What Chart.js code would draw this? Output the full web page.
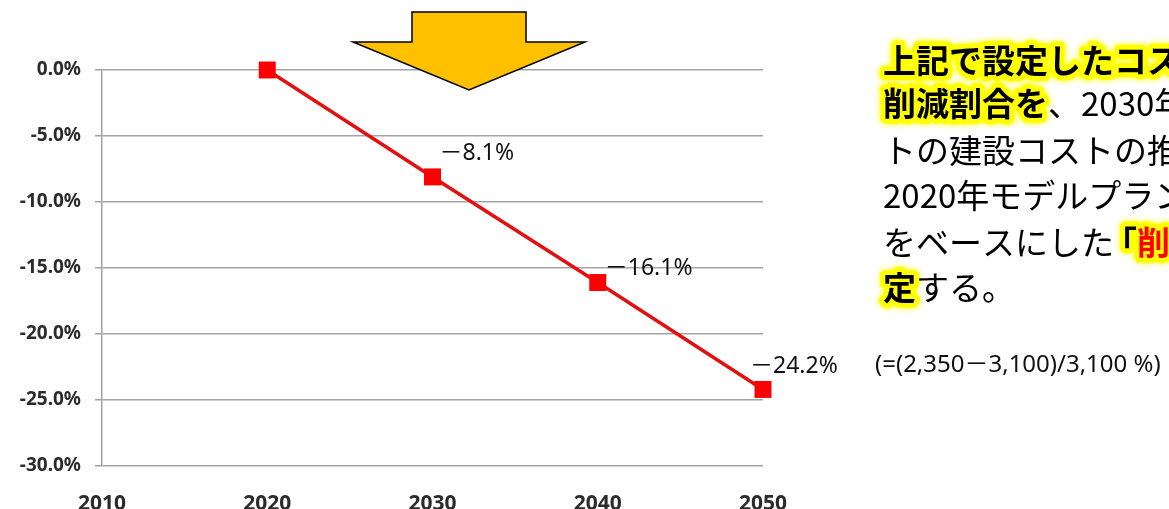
<!DOCTYPE html>
<html lang="ja">
<head>
<meta charset="UTF-8">
<title>建設コスト削減割合</title>
<style>
  html, body { margin: 0; padding: 0; background: #fff; }
  canvas { display: block; }
</style>
</head>
<body>
<canvas id="costChart" width="1169" height="509"></canvas>
<script src="https://cdn.jsdelivr.net/npm/chart.js"></script>
<script>
// 年ごとのコスト削減割合 (%)
const years = [2020, 2030, 2040, 2050];
const reductionPct = [0, -8.1, -16.1, -24.2];

// 軸の範囲と目盛
const xTicks = [2010, 2020, 2030, 2040, 2050];
const yTicks = [0, -5, -10, -15, -20, -25, -30];

// 右側の説明文 (行ごとの文字列と装飾)
const noteLines = [
    [{ t: '上記で設定したコスト', bold: true, hl: true }],
    [{ t: '削減割合を', bold: true, hl: true }, { t: '、2030年モデルプラン' }],
    [{ t: 'トの建設コストの推計値を' }],
    [{ t: '2020年モデルプラント' }],
    [{ t: 'をベースにした' }, { t: '「', bold: true, hl: true, tight: 10 }, { t: '削減割合」', bold: true, hl: true, color: '#ff0000' }],
    [{ t: '定', bold: true, hl: true }, { t: 'する。' }]
];
const formulaText = '(=(2,350－3,100)/3,100 %)';

// ラベルの位置ずらし (点からの px)
const labelOffsets = [[0, 0], [7, -23], [7, -14], [-13, -23]];

const ctx = document.getElementById('costChart');

function pctLabel(v) {
    return '－' + Math.abs(v).toFixed(1) + '%';
}

// 点の横に値ラベルを描く
const valueLabels = {
    id: 'valueLabels',
    afterDatasetsDraw(chart) {
        const c = chart.ctx;
        const meta = chart.getDatasetMeta(0);
        c.save();
        c.font = '23px "Noto Sans", "Noto Sans CJK JP", sans-serif';
        c.fillStyle = '#111';
        c.textAlign = 'left';
        c.textBaseline = 'middle';
        meta.data.forEach((pt, i) => {
            const v = reductionPct[i];
            if (v === 0) return;
            const off = labelOffsets[i];
            c.fillText(pctLabel(v), pt.x + off[0], pt.y + off[1]);
        });
        c.restore();
    }
};

// 矢印と右側の説明文
const decorations = {
    id: 'decorations',
    afterDraw(chart) {
        const c = chart.ctx;
        c.save();

        // 下向きの矢印
        c.beginPath();
        c.moveTo(412, 12);
        c.lineTo(526, 12);
        c.lineTo(526, 42);
        c.lineTo(585, 42);
        c.lineTo(469, 90);
        c.lineTo(353, 42);
        c.lineTo(412, 42);
        c.closePath();
        c.fillStyle = '#ffc000';
        c.fill();
        c.lineWidth = 1.5;
        c.strokeStyle = '#000';
        c.stroke();

        // 説明文
        const lineY = [60, 103, 150, 195, 242, 287];
        const x0 = 883;
        c.textAlign = 'left';
        c.textBaseline = 'middle';
        const fontOf = s => (s.bold ? 'bold ' : '') + '33px "Noto Sans CJK JP", sans-serif';

        // 各区切りの描画位置 (括弧は左へ詰める)
        const layoutLine = line => {
            let x = x0;
            return line.map(s => {
                c.font = fontOf(s);
                const tight = s.tight || 0;
                const pos = x - tight;
                x += c.measureText(s.t).width - tight;
                return pos;
            });
        };

        // 蛍光ペン風の下地を先に描く
        noteLines.forEach((line, li) => {
            const xs = layoutLine(line);
            line.forEach((s, si) => {
                if (!s.hl) return;
                c.save();
                c.font = fontOf(s);
                c.lineJoin = 'round';
                c.lineWidth = 10;
                c.strokeStyle = '#ffff00';
                c.shadowColor = '#ffff00';
                c.shadowBlur = 6;
                c.strokeText(s.t, xs[si], lineY[li]);
                c.fillStyle = '#ffff00';
                c.fillText(s.t, xs[si], lineY[li]);
                c.restore();
            });
        });
        noteLines.forEach((line, li) => {
            const xs = layoutLine(line);
            line.forEach((s, si) => {
                c.font = fontOf(s);
                c.fillStyle = s.color || '#000';
                c.fillText(s.t, xs[si], lineY[li]);
            });
        });

        // 計算式
        c.font = '24px "Noto Sans", "Noto Sans CJK JP", sans-serif';
        c.fillStyle = '#111';
        c.fillText(formulaText, 875, 365);

        c.restore();
    }
};

new Chart(ctx, {
    type: 'line',
    data: {
        datasets: [{
            label: 'コスト削減割合',
            data: years.map((y, i) => ({ x: y, y: reductionPct[i] })),
            borderColor: '#e41010',
            borderWidth: 3.5,
            pointStyle: 'rect',
            pointRadius: 12,
            pointHoverRadius: 12,
            pointBackgroundColor: '#ff0000',
            pointBorderColor: '#ff0000',
            pointBorderWidth: 0,
            tension: 0,
            clip: false
        }]
    },
    options: {
        responsive: false,
        animation: false,
        events: [],
        layout: { padding: { left: 0, right: 406, top: 70, bottom: 0 } },
        plugins: {
            legend: { display: false },
            tooltip: { enabled: false }
        },
        scales: {
            x: {
                type: 'linear',
                min: xTicks[0],
                max: xTicks[xTicks.length - 1],
                afterBuildTicks: axis => { axis.ticks = xTicks.map(v => ({ value: v })); },
                afterFit: axis => { axis.height = 43; },
                grid: { display: false },
                border: { display: false },
                ticks: {
                    padding: 17,
                    color: '#2b2b2b',
                    font: { family: '"Noto Sans", sans-serif', size: 21, weight: 'bold' },
                    callback: v => String(v),
                    maxRotation: 0
                }
            },
            y: {
                min: yTicks[yTicks.length - 1],
                max: yTicks[0],
                afterBuildTicks: axis => { axis.ticks = yTicks.map(v => ({ value: v })); },
                afterFit: axis => { axis.width = 102; },
                grid: { color: '#a3a3a3', lineWidth: 1.5, tickLength: 7 },
                border: { display: true, color: '#a3a3a3', width: 1.5 },
                ticks: {
                    padding: 14,
                    color: '#2b2b2b',
                    font: { family: '"Noto Sans", sans-serif', size: 19, weight: 'bold' },
                    callback: v => v.toFixed(1) + '%'
                }
            }
        }
    },
    plugins: [valueLabels, decorations]
});
</script>
</body>
</html>
